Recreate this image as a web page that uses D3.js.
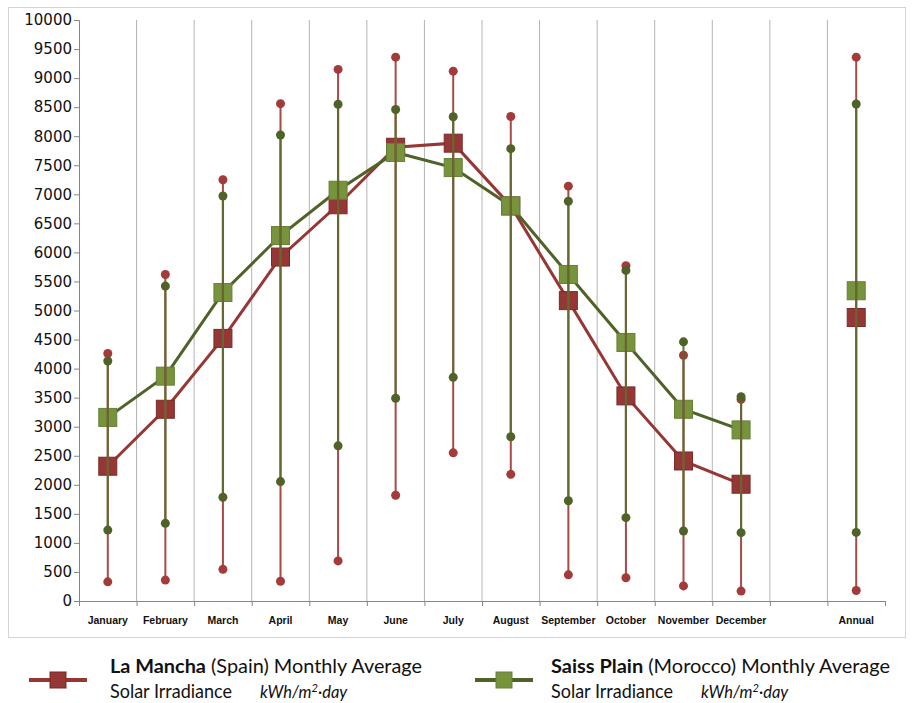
<!DOCTYPE html>
<html>
<head>
<meta charset="utf-8">
<script src="https://cdn.jsdelivr.net/npm/d3@7"></script>
<style>
    body { margin: 0; background: #fff; }
    .tick text { fill: #111; }
</style>
</head>
<body>
<div id="chart"></div>
<script>
// categories (blank slot between December and Annual)
var categories = ["January", "February", "March", "April", "May", "June", "July",
    "August", "September", "October", "November", "December", "", "Annual"];

// La Mancha (Spain)
var spainAvg = [2320, 3300, 4520, 5920, 6820, 7810, 7880, 6800, 5170, 3530, 2410, 2010, null, 4880];
var spainMax = [4260, 5620, 7250, 8560, 9150, 9360, 9120, 8340, 7140, 5770, 4230, 3470, null, 9360];
var spainMin = [330, 360, 545, 340, 690, 1820, 2550, 2180, 450, 400, 260, 170, null, 180];

// Saiss Plain (Morocco)
var moroccoAvg = [3160, 3870, 5310, 6290, 7070, 7720, 7460, 6800, 5620, 4450, 3300, 2945, null, 5340];
var moroccoMax = [4130, 5420, 6970, 8020, 8550, 8460, 8335, 7785, 6880, 5690, 4460, 3515, null, 8555];
var moroccoMin = [1220, 1337, 1785, 2055, 2670, 3490, 3850, 2828, 1725, 1435, 1205, 1176, null, 1180];

var yTicks = d3.range(0, 10001, 500);

function init() {
    var W = 913, H = 703;
    var left = 79, right = 885, top = 20, bottom = 601;

    var svg = d3.select("#chart").append("svg")
        .attr("width", W)
        .attr("height", H);

    // chart border
    svg.append("rect")
        .attr("x", 8.5).attr("y", 7.5)
        .attr("width", 897).attr("height", 630)
        .attr("fill", "none")
        .attr("stroke", "#d4d4d4");

    var idx = d3.range(categories.length);

    var xBand = d3.scaleBand().domain(idx).range([left, right]);
    var xEdge = d3.scaleLinear().domain([0, categories.length]).range([left, right]);
    var y = d3.scaleLinear().domain([0, 10000]).range([bottom, top]);

    var cx = function(i) { return xBand(i) + xBand.bandwidth() / 2; };

    // vertical gridlines between categories
    svg.append("g").selectAll("line")
        .data(d3.range(1, categories.length))
        .enter().append("line")
        .attr("x1", function(d) { return xEdge(d); })
        .attr("x2", function(d) { return xEdge(d); })
        .attr("y1", top)
        .attr("y2", bottom)
        .attr("stroke", "#b3b3b3")
        .attr("stroke-width", 1);

    // y axis
    var yAxis = d3.axisLeft(y)
        .tickValues(yTicks)
        .tickFormat(d3.format("d"))
        .tickSize(5)
        .tickPadding(2);

    var gy = svg.append("g")
        .attr("transform", "translate(" + left + ",0)")
        .call(yAxis);
    gy.select(".domain").attr("stroke", "#868686");
    gy.selectAll(".tick line").attr("stroke", "#868686");
    gy.selectAll(".tick text")
        .attr("font-family", "DejaVu Sans")
        .attr("font-size", "15px");

    // x axis: ticks at category edges
    var xAxis = d3.axisBottom(xEdge)
        .tickValues(d3.range(0, categories.length + 1))
        .tickFormat("")
        .tickSize(5)
        .tickSizeOuter(0);
    var gx = svg.append("g")
        .attr("transform", "translate(0," + bottom + ")")
        .call(xAxis);
    gx.select(".domain").attr("stroke", "#868686");
    gx.selectAll(".tick line").attr("stroke", "#868686");

    // category labels centred in bands
    var labelAxis = d3.axisBottom(xBand)
        .tickFormat(function(i) { return categories[i]; })
        .tickSize(0)
        .tickPadding(16);
    var gl = svg.append("g")
        .attr("transform", "translate(0," + bottom + ")")
        .call(labelAxis);
    gl.select(".domain").remove();
    gl.selectAll(".tick text")
        .attr("font-family", "Liberation Sans")
        .attr("font-weight", "bold")
        .attr("font-size", "10.5px");

    var series = [
        { avg: spainAvg, max: spainMax, min: spainMin,
          line: "#963735", fill: "#953735", edge: "#7a2a28", dot: "#a23b39", whisker: "#a8494a", ww: 2 },
        { avg: moroccoAvg, max: moroccoMax, min: moroccoMin,
          line: "#4f6228", fill: "#77933c", edge: "#66803a", dot: "#4f6228", whisker: "#5d6b30", ww: 2.2 }
    ];

    var line = d3.line()
        .defined(function(d) { return d != null; })
        .x(function(d, i) { return cx(i); })
        .y(function(d) { return y(d); });

    var sq = 18;

    // average lines and square markers
    series.forEach(function(s) {
        svg.append("path")
            .datum(s.avg.slice(0, 12))
            .attr("d", line)
            .attr("fill", "none")
            .attr("stroke", s.line)
            .attr("stroke-width", 3);

        svg.append("g").selectAll("rect")
            .data(idx.filter(function(i) { return s.avg[i] != null; }))
            .enter().append("rect")
            .attr("x", function(i) { return cx(i) - sq / 2; })
            .attr("y", function(i) { return y(s.avg[i]) - sq / 2; })
            .attr("width", sq)
            .attr("height", sq)
            .attr("fill", s.fill)
            .attr("stroke", s.edge)
            .attr("stroke-width", 1);
    });

    // min-max whiskers with end dots
    series.forEach(function(s, k) {
        var pts = idx.filter(function(i) { return s.max[i] != null; });
        var g = svg.append("g").attr("opacity", k === 1 ? 0.88 : 1);
        g.selectAll("line")
            .data(pts)
            .enter().append("line")
            .attr("x1", function(i) { return cx(i); })
            .attr("x2", function(i) { return cx(i); })
            .attr("y1", function(i) { return y(s.min[i]); })
            .attr("y2", function(i) { return y(s.max[i]); })
            .attr("stroke", s.whisker)
            .attr("stroke-width", s.ww);

        var ends = [];
        pts.forEach(function(i) {
            ends.push({ i: i, v: s.max[i] });
            ends.push({ i: i, v: s.min[i] });
        });
        svg.append("g").selectAll("circle")
            .data(ends)
            .enter().append("circle")
            .attr("cx", function(d) { return cx(d.i); })
            .attr("cy", function(d) { return y(d.v); })
            .attr("r", 4.5)
            .attr("fill", s.dot);
    });

    // legend
    var legend = [
        { x: 29, tx: 110, bold: "La Mancha", rest: " (Spain) Monthly Average", s: series[0], w1: 312, w2: 122, kx: 260 },
        { x: 475, tx: 551, bold: "Saiss Plain", rest: " (Morocco) Monthly Average", s: series[1], w1: 339, w2: 122, kx: 701 }
    ];
    legend.forEach(function(l) {
        var g = svg.append("g");
        g.append("line")
            .attr("x1", l.x).attr("x2", l.x + 58)
            .attr("y1", 680).attr("y2", 680)
            .attr("stroke", l.s.line)
            .attr("stroke-width", 4);
        g.append("rect")
            .attr("x", l.x + 29 - 8).attr("y", 672)
            .attr("width", 16).attr("height", 16)
            .attr("fill", l.s.fill)
            .attr("stroke", l.s.edge);

        var t1 = g.append("text")
            .attr("x", l.tx).attr("y", 673)
            .attr("font-family", "Lato")
            .attr("font-size", "19px")
            .attr("textLength", l.w1)
            .attr("lengthAdjust", "spacingAndGlyphs")
            .attr("fill", "#111");
        t1.append("tspan").attr("font-weight", "bold").text(l.bold);
        t1.append("tspan").text(l.rest);

        g.append("text")
            .attr("x", l.tx).attr("y", 698)
            .attr("font-family", "Lato")
            .attr("font-size", "19px")
            .attr("textLength", l.w2)
            .attr("lengthAdjust", "spacingAndGlyphs")
            .attr("fill", "#111")
            .text("Solar Irradiance");

        var it = g.append("text")
            .attr("x", l.kx).attr("y", 698)
            .attr("font-family", "Lato")
            .attr("font-style", "italic")
            .attr("font-size", "16.5px")
            .attr("fill", "#111");
        it.append("tspan").text("kWh/m");
        it.append("tspan").attr("font-size", "11px").attr("dy", -6).text("2");
        it.append("tspan").attr("dy", 6).text("·day");
    });
}

window.onload = init;
</script>
</body>
</html>
